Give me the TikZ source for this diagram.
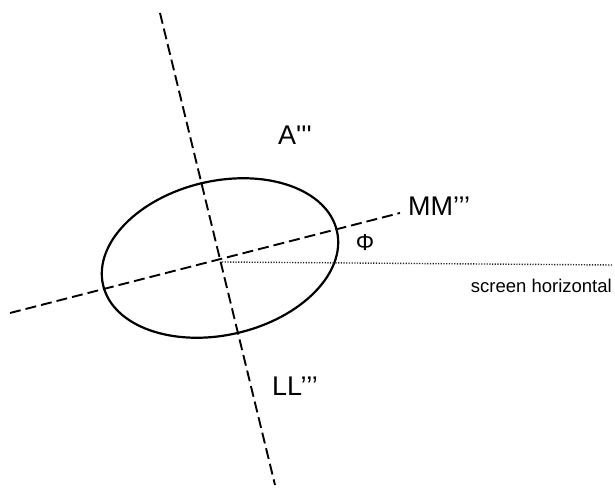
\documentclass[tikz,border=0pt]{standalone}
\usepackage{fontspec}
\setmainfont{Liberation Sans}
\begin{document}
\begin{tikzpicture}[x=1pt,y=1pt,
  axisline/.style={line width=1.9pt, dash pattern=on 11pt off 5pt},
  dotline/.style={line width=1.4pt, dash pattern=on 1.2pt off 1.5pt, black!85},
  outline/.style={line width=2.2pt},
  biglabel/.style={inner sep=0pt, font=\fontsize{27}{27}\selectfont},
  smalllabel/.style={inner sep=0pt, font=\fontsize{18.5}{18.5}\selectfont}]
\useasboundingbox (0,0) rectangle (615,487);
% centre
\coordinate (O) at (220,229);
% axis ends
\coordinate (mmL) at (10,174);
\coordinate (mmR) at (400,274);
\coordinate (llT) at (160,474);
\coordinate (llB) at (275,2);
\coordinate (hS) at (222,225);
\coordinate (hE) at (612,222);
% ellipse
\draw[outline, rotate around={13:(O)}] (O) ellipse [x radius=120, y radius=77];
% axes
\draw[axisline] (mmL) -- (mmR);
\draw[axisline] (llT) -- (llB);
\draw[dotline] (hS) -- (hE);
% labels
\node[biglabel, anchor=base west] (A) at (278,342) {A\textquotesingle\textquotesingle\textquotesingle};
\node[biglabel, anchor=base west] (MM) at (408,271) {MM’’’};
\node[biglabel, anchor=base west] (LL) at (272,92) {LL’’’};
\node[inner sep=0pt, font=\fontsize{23}{23}\selectfont] (phi) at (365,244) {Φ};
\node[smalllabel, anchor=base east] (sh) at (612,194) {screen horizontal};
\end{tikzpicture}
\end{document}
